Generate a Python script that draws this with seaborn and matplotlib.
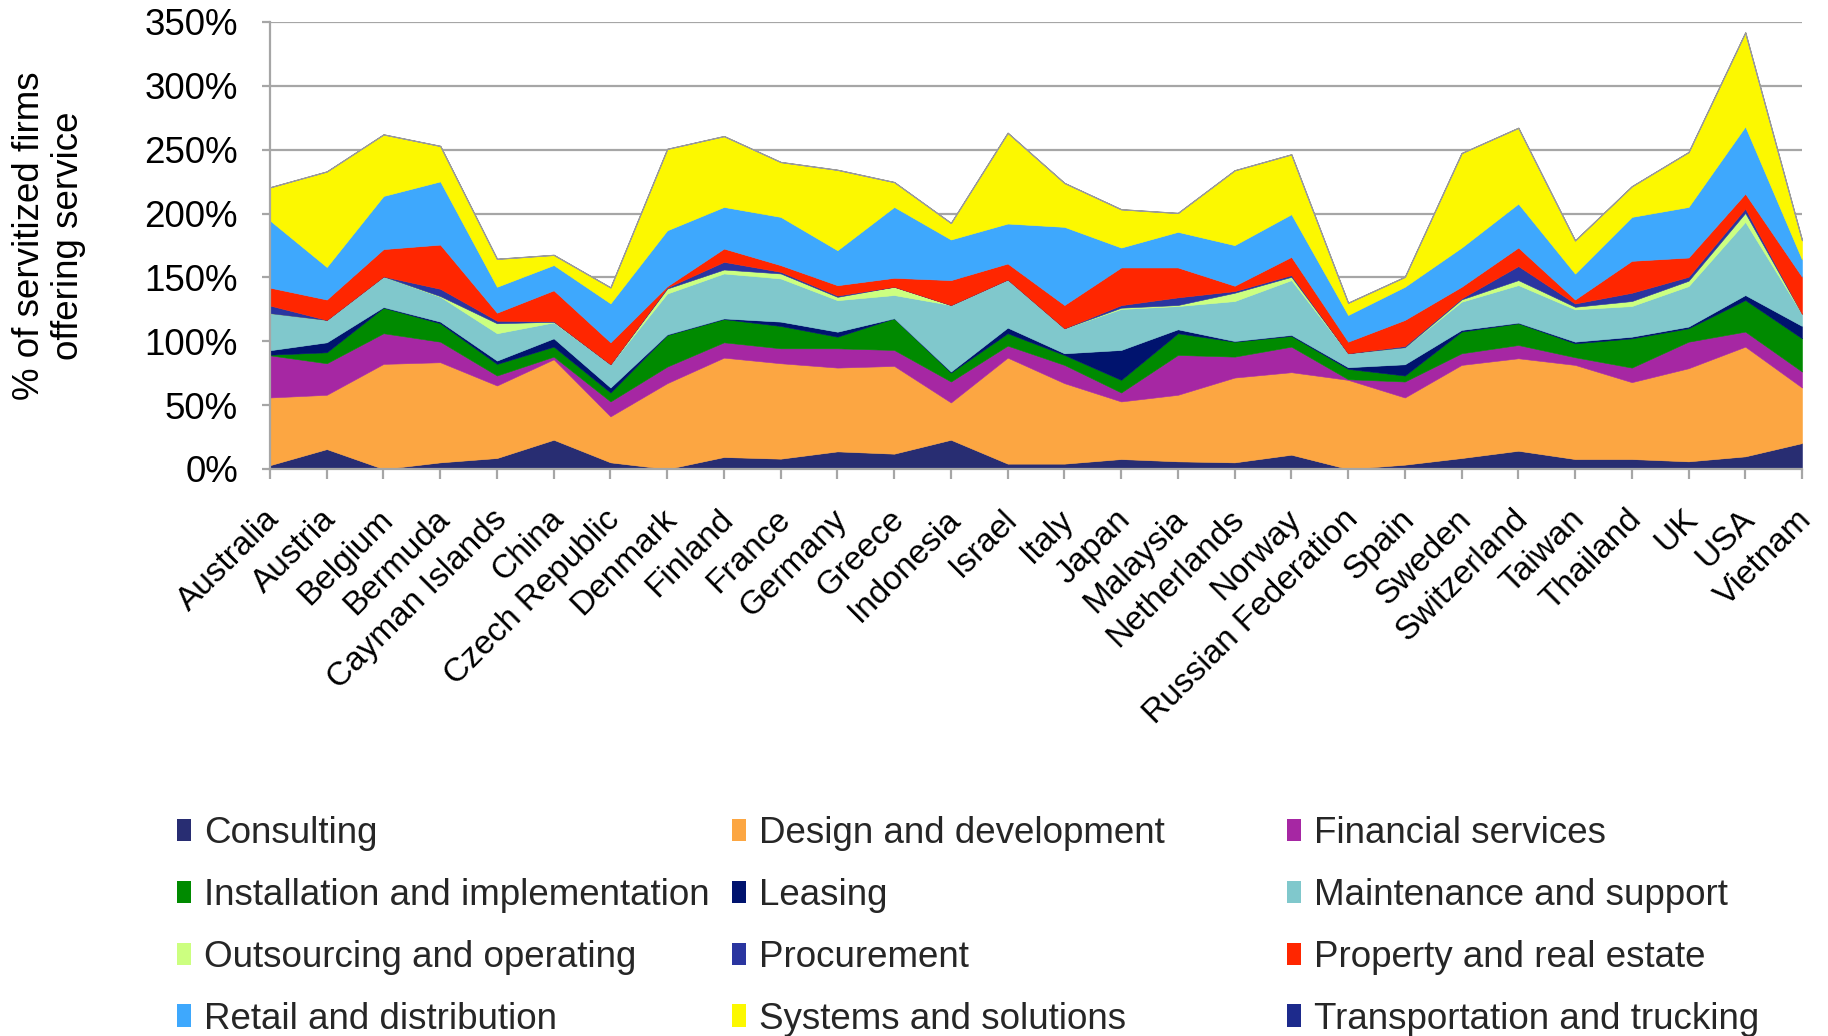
import matplotlib
matplotlib.use("Agg")
import matplotlib.pyplot as plt
import matplotlib.transforms as mtransforms
import seaborn as sns
import numpy as np
from matplotlib.patches import Patch
from matplotlib.ticker import MultipleLocator, FuncFormatter

countries = ["Australia", "Austria", "Belgium", "Bermuda", "Cayman Islands", "China",
             "Czech Republic", "Denmark", "Finland", "France", "Germany", "Greece",
             "Indonesia", "Israel", "Italy", "Japan", "Malaysia", "Netherlands", "Norway",
             "Russian Federation", "Spain", "Sweden", "Switzerland", "Taiwan", "Thailand",
             "UK", "USA", "Vietnam"]

# % of servitized firms offering each service
consulting = [3, 15.6, 0, 5.2, 8.6, 22.9, 5.2, 0, 9.4, 8.1, 13.8, 12, 22.9, 4.2,
              4.2, 7.8, 6, 5.2, 11.2, 0, 3.4, 8.6, 14.3, 7.8, 7.8, 6, 9.9, 20.3]
design = [53, 42.5, 82.3, 78.4, 56.8, 63, 36, 67.2, 77.8, 74.7, 65.6, 68.7, 29.2, 83,
          63, 45.1, 52.1, 66.4, 64.6, 69.8, 52.6, 72.9, 72.4, 73.7, 60.2, 72.9, 85.9, 43.5]
financial = [33, 24.7, 24, 16.1, 7.8, 2.1, 11.7, 13, 12, 11.7, 15.1, 12.5, 16.4, 9.4,
             14.3, 7, 31.2, 16.4, 20, 0.5, 12.5, 9.1, 10.4, 6, 11.4, 20.8, 11.8, 12.5]
installation = [0.5, 8.6, 20, 14.4, 9.1, 7.8, 7, 24.7, 18.2, 17.5, 9.1, 24.8, 7, 9.7,
                7.8, 9.9, 17, 11.7, 8.4, 8.1, 4.7, 17, 17, 10.9, 22.9, 10.5, 24.7, 26]
leasing = [3.5, 7.8, 0.5, 1.3, 2.6, 6.5, 3.9, 0.5, 0.5, 3.4, 3.9, 0, 0.8, 4.4,
           1.3, 23.4, 3.1, 0.5, 0.8, 1.3, 8.8, 1.3, 0.5, 1.3, 1.3, 1.3, 3.9, 9.7]
maintenance = [29, 17.5, 24, 19.5, 21.4, 12.5, 18.2, 32, 35.2, 33.8, 24.7, 18.2, 52.1, 37.7,
               19.6, 32.1, 18.2, 31.3, 42.9, 10.9, 13.3, 22.1, 29.4, 25.3, 24, 31.7, 57.3, 9.4]
outsourcing = [0, 0, 0, 0.5, 7.8, 0.5, 0, 3.9, 3.1, 3.9, 2.6, 6.5, 0, 0,
               0, 1, 0.8, 6.5, 2.6, 0, 0, 1.8, 3.9, 2, 3.9, 4.2, 7, 0]
procurement = [6, 0, 0, 5.7, 2, 0.3, 0, 0.8, 6, 1.3, 1, 0, 0, 0,
               0, 2, 6, 1.3, 1.3, 0, 1, 0.8, 11, 2.6, 6.5, 3.1, 3.4, 0]
property_re = [14, 16, 21.4, 34.6, 6.3, 24.3, 17.2, 1, 10.4, 5.2, 8.1, 7, 19.5, 12.5,
               18.2, 29.5, 23.4, 4.2, 14.3, 9.1, 20.4, 9.1, 14.5, 3.1, 25, 15.1, 11.7, 29.1]
retail = [52.6, 25.5, 41.6, 49.5, 20.3, 19.8, 30.5, 43.8, 32.6, 37.8, 27.4, 55.5, 31.8, 31.3,
          61.2, 15.6, 27.9, 31.8, 33.4, 20.9, 26, 30.7, 34.4, 20.3, 34.4, 39.6, 52.6, 13.6]
systems = [26, 74.8, 48.2, 27.8, 21.9, 8, 12.5, 63.8, 55.5, 43, 63, 19.5, 13, 71.1,
           34.4, 30, 14.8, 58.6, 46.9, 9.6, 7.8, 74, 59.4, 26, 24, 43, 73.7, 15.1]
transport = [0, 0, 0, 0, 0, 0, 0, 0, 0, 0, 0, 0, 0, 0,
             0, 0, 0, 0, 0, 0, 0, 0, 0, 0, 0, 0, 0, 0]

names = ["Consulting", "Design and development", "Financial services",
         "Installation and implementation", "Leasing", "Maintenance and support",
         "Outsourcing and operating", "Procurement", "Property and real estate",
         "Retail and distribution", "Systems and solutions", "Transportation and trucking"]
series = [consulting, design, financial, installation, leasing, maintenance,
          outsourcing, procurement, property_re, retail, systems, transport]
colors = ["#282d72", "#fca642", "#a627a3", "#008a00", "#00136e", "#80c8cc",
          "#ccff80", "#2a35a0", "#ff2600", "#3ea8fd", "#fcf800", "#1d2a8c"]

sns.set_theme(style="white")
plt.rcParams["font.family"] = ["Liberation Sans", "DejaVu Sans"]

fig = plt.figure(figsize=(18.28, 10.36), dpi=100)
ax = fig.add_axes([270 / 1828, 1 - 469 / 1036, 1532 / 1828, 447 / 1036])

x = np.arange(len(countries))
polys = ax.stackplot(x, *series, colors=colors, linewidth=0)
for p, c in zip(polys, colors):
    p.set_edgecolor(c)
    p.set_linewidth(0.4)
# thin grey outline along the top of the stack
polys[-1].set_edgecolor("#9a9a9a")
polys[-1].set_linewidth(0.8)

ax.set_xlim(0, len(countries) - 1)
ax.set_ylim(0, 350)
ax.yaxis.set_major_locator(MultipleLocator(50))
ax.yaxis.set_major_formatter(FuncFormatter(lambda v, _: f"{v:.0f}%"))

ax.grid(axis="y", color="#a6a6a6", linewidth=1.6)
ax.set_axisbelow(True)
for s in ["top", "right"]:
    ax.spines[s].set_visible(False)
for s in ["left", "bottom"]:
    ax.spines[s].set_color("#a6a6a6")
    ax.spines[s].set_linewidth(1.6)

ax.set_xticks(x)
ax.set_xticklabels(countries, rotation=45, ha="right", rotation_mode="anchor")
ax.tick_params(axis="x", bottom=True, length=7, width=1.6, color="#a6a6a6",
               direction="out", labelsize=24, labelcolor="black", pad=18)
ax.tick_params(axis="y", left=True, length=6, width=1.6, color="#a6a6a6",
               direction="out", labelsize=26.5, labelcolor="black", pad=17)
shift = mtransforms.ScaledTranslation(-6 / 100, 0, fig.dpi_scale_trans)
for lbl in ax.get_xticklabels():
    lbl.set_transform(lbl.get_transform() + shift)

fig.text(49 / 1828, 1 - 236 / 1036, "% of servitized firms\noffering service",
         rotation=90, ha="center", va="center", multialignment="center",
         fontsize=26.5, color="black", linespacing=1.12)

# legend: three fixed-width columns, filled row by row
handles = [Patch(facecolor=c, edgecolor="none") for c in colors]
col_x = [177 / 1828, 732 / 1828, 1287 / 1828]
for col in range(3):
    idx = [col, col + 3, col + 6, col + 9]
    fig.legend([handles[i] for i in idx], [names[i] for i in idx],
               loc="upper left", bbox_to_anchor=(col_x[col], 1 - 816 / 1036),
               frameon=False, fontsize=26.5, handlelength=0.38, handleheight=0.55,
               handletextpad=0.35, labelspacing=0.73, borderpad=0, borderaxespad=0)

fig.savefig("out.png", dpi=100)
